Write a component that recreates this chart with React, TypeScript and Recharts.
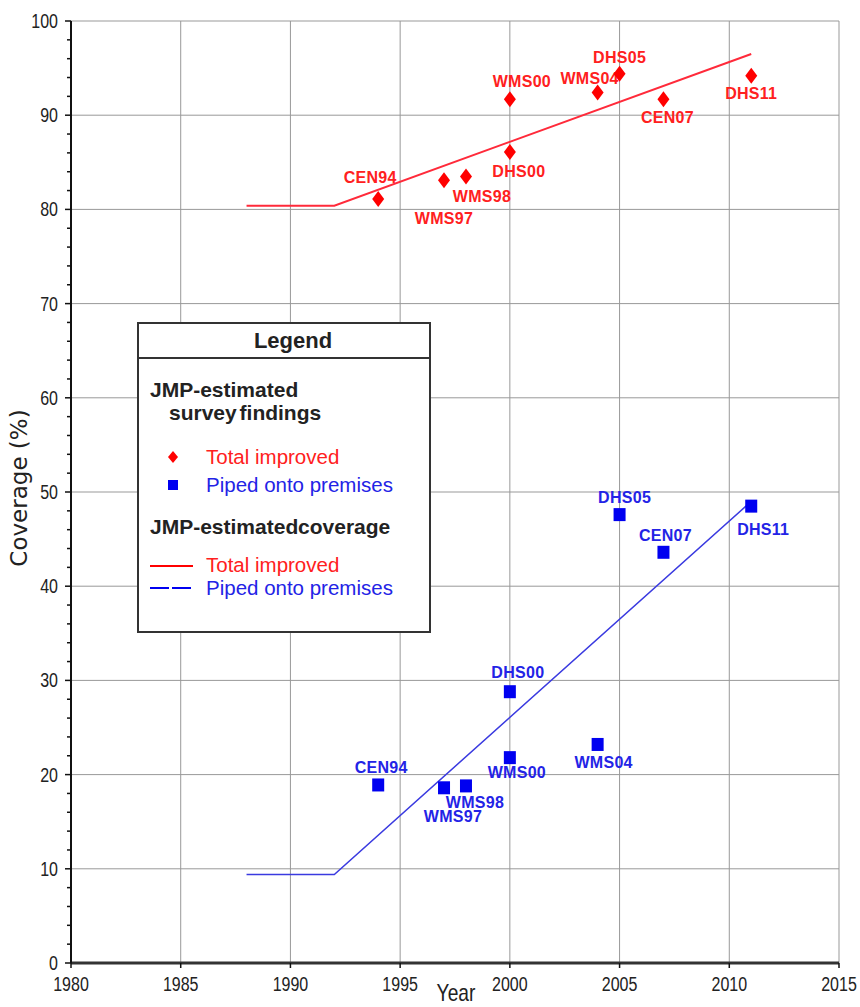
import { ComposedChart, Line, Scatter, XAxis, YAxis, CartesianGrid } from 'recharts'

// survey findings
const surveys = ['CEN94', 'WMS97', 'WMS98', 'WMS00', 'DHS00', 'WMS04', 'DHS05', 'CEN07', 'DHS11']
const surveyYears = [1994, 1997, 1998, 2000, 2000, 2004, 2005, 2007, 2011]
const totalImproved = [81.1, 83.1, 83.5, 91.7, 86.1, 92.4, 94.4, 91.7, 94.2]
const pipedPremises = [18.9, 18.6, 18.8, 21.8, 28.8, 23.2, 47.6, 43.6, 48.5]

// JMP-estimated coverage
const totalLineYears = [1988, 1992, 2011]
const totalLineValues = [80.4, 80.4, 96.5]
const pipedLineYears = [1988, 1992, 2011]
const pipedLineValues = [9.4, 9.4, 49.0]

const xTicks = [1980, 1985, 1990, 1995, 2000, 2005, 2010, 2015]
const yMajor = [0, 10, 20, 30, 40, 50, 60, 70, 80, 90, 100]
const yTicks = yMajor.flatMap(t => (t < 100 ? [t, t + 2, t + 4, t + 6, t + 8] : [t]))

const RED = '#ff0000'
const BLUE = '#0000f0'
const RED_TXT = '#ff2020'
const BLUE_TXT = '#2323e6'
const SANS = "'Liberation Sans', Arial, sans-serif"
const SQUEEZE = 0.8 // the axis font is a condensed one

// label offsets (px) from marker centre
const redLabelPos: Record<string, [number, number]> = {
  CEN94: [-8, -22], WMS97: [0, 38], WMS98: [16, 20], WMS00: [12, -18], DHS00: [9, 20],
  WMS04: [-8, -14], DHS05: [0, -16], CEN07: [4, 18], DHS11: [0, 18],
}
const blueLabelPos: Record<string, [number, number]> = {
  CEN94: [3, -17], WMS97: [9, 29], WMS98: [9, 17], DHS00: [8, -19], WMS00: [7, 15],
  WMS04: [6, 18], DHS05: [5, -17], CEN07: [2, -17], DHS11: [12, 23],
}

const totalLine = totalLineYears.map((year, i) => ({ year, value: totalLineValues[i] }))
const pipedLine = pipedLineYears.map((year, i) => ({ year, value: pipedLineValues[i] }))
const totalPts = surveys.map((name, i) => ({ name, year: surveyYears[i], value: totalImproved[i] }))
const pipedPts = surveys.map((name, i) => ({ name, year: surveyYears[i], value: pipedPremises[i] }))

const NarrowText = ({ x, y, anchor, size, children }: any) => (
  <g transform={`translate(${x} ${y}) scale(${SQUEEZE} 1)`}>
    <text x={0} y={0} textAnchor={anchor} fontFamily={SANS} fontSize={size} fill="#222">{children}</text>
  </g>
)

const PointLabel = ({ x, y, text, color }: any) => (
  <text x={x} y={y} textAnchor="middle" dominantBaseline="central" letterSpacing={0.3}
    fontFamily={SANS} fontWeight="bold" fontSize={16} fill={color}>{text}</text>
)

const Diamond = (p: any) => {
  const { cx, cy, payload } = p
  const [dx, dy] = redLabelPos[payload.name] || [0, -18]
  return (
    <g>
      <polygon points={`${cx},${cy - 8} ${cx + 6},${cy} ${cx},${cy + 8} ${cx - 6},${cy}`} fill={RED} />
      <PointLabel x={cx + dx} y={cy + dy} text={payload.name} color={RED_TXT} />
    </g>
  )
}

const Square = (p: any) => {
  const { cx, cy, payload } = p
  const [dx, dy] = blueLabelPos[payload.name] || [0, -18]
  return (
    <g>
      <rect x={cx - 6} y={cy - 6.5} width={12} height={13} fill={BLUE} />
      <PointLabel x={cx + dx} y={cy + dy} text={payload.name} color={BLUE_TXT} />
    </g>
  )
}

const YTick = (props: any) => {
  const { x, y, payload } = props
  const v = payload.value
  const major = v % 10 === 0
  return (
    <g>
      <line x1={x - (major ? 6 : 4)} x2={x} y1={y} y2={y} stroke="#111" strokeWidth={1.5} />
      {major && <NarrowText x={x - 13} y={y + 7} anchor="end" size={20}>{v}</NarrowText>}
    </g>
  )
}

const XTick = (props: any) => {
  const { x, y, payload } = props
  return <NarrowText x={x} y={y + 14} anchor="middle" size={20}>{payload.value}</NarrowText>
}

function ChartLegend() {
  return (
    <svg width={296} height={312} style={{ position: 'absolute', left: 137, top: 322 }}>
      <rect x={1} y={1} width={292} height={309} fill="#fff" stroke="#333" strokeWidth={2} />
      <line x1={1} x2={293} y1={36} y2={36} stroke="#333" strokeWidth={2} />
      <text x={156} y={26} textAnchor="middle" fontFamily={SANS} fontWeight="bold" fontSize={22} fill="#222">Legend</text>
      <text x={13} y={75} fontFamily={SANS} fontWeight="bold" fontSize={21} fill="#222">JMP-estimated</text>
      <text x={32} y={98} fontFamily={SANS} fontWeight="bold" fontSize={21} fill="#222" wordSpacing={-3}>survey findings</text>
      <polygon points="36,129 41,135 36,141 31,135" fill={RED} />
      <text x={69} y={142} fontFamily={SANS} fontSize={20.5} fill={RED_TXT}>Total improved</text>
      <rect x={31} y={158} width={10} height={10} fill={BLUE} />
      <text x={69} y={170} fontFamily={SANS} fontSize={20.5} fill={BLUE_TXT}>Piped onto premises</text>
      <text x={13} y={212} fontFamily={SANS} fontWeight="bold" fontSize={21} fill="#222" wordSpacing={-6}>JMP-estimated coverage</text>
      <line x1={13} x2={56} y1={244} y2={244} stroke={RED} strokeWidth={2} />
      <text x={69} y={250} fontFamily={SANS} fontSize={20.5} fill={RED_TXT}>Total improved</text>
      <line x1={13} x2={56} y1={266} y2={266} stroke={BLUE} strokeWidth={2} strokeDasharray="19 3" />
      <text x={69} y={273} fontFamily={SANS} fontSize={20.5} fill={BLUE_TXT}>Piped onto premises</text>
    </svg>
  )
}

export default function App() {
  return (
    <div style={{ position: 'absolute', left: 0, top: 0, width: 860, height: 1007, background: '#fff' }}>
      <ComposedChart width={860} height={1007} margin={{ top: 21, right: 21, left: 11, bottom: 0 }}>
        <CartesianGrid stroke="#999" strokeWidth={1} horizontalValues={yMajor} verticalValues={xTicks} />
        <XAxis
          type="number" dataKey="year" domain={[1980, 2015]} ticks={xTicks} allowDataOverflow
          height={44} tickSize={5} tickMargin={9} tick={<XTick />}
          tickLine={{ stroke: '#111', strokeWidth: 1.5 }}
          axisLine={{ stroke: '#333', strokeWidth: 3 }}
          label={{
            content: () => <NarrowText x={456} y={1001} anchor="middle" size={24}>Year</NarrowText>,
          }}
        />
        <YAxis
          type="number" dataKey="value" domain={[0, 100]} ticks={yTicks} interval={0}
          width={60} tickSize={0} tickMargin={0} tickLine={false} tick={<YTick />}
          axisLine={{ stroke: '#111', strokeWidth: 2 }}
          label={{
            content: () => (
              <text x={19} y={488} transform="rotate(-90 19 488)" textAnchor="middle" dominantBaseline="central"
                fontFamily="'DejaVu Sans', Verdana, sans-serif" fontSize={23} fill="#222">Coverage (%)</text>
            ),
          }}
        />
        <Line data={totalLine} dataKey="value" type="linear" stroke="#ff2a3a" strokeWidth={2}
          dot={false} activeDot={false} isAnimationActive={false} />
        <Line data={pipedLine} dataKey="value" type="linear" stroke="#3a3ae0" strokeWidth={1.5}
          dot={false} activeDot={false} isAnimationActive={false} />
        <Scatter data={totalPts} dataKey="value" shape={(p: any) => <Diamond {...p} />} isAnimationActive={false} />
        <Scatter data={pipedPts} dataKey="value" shape={(p: any) => <Square {...p} />} isAnimationActive={false} />
      </ComposedChart>
      <ChartLegend />
    </div>
  )
}
